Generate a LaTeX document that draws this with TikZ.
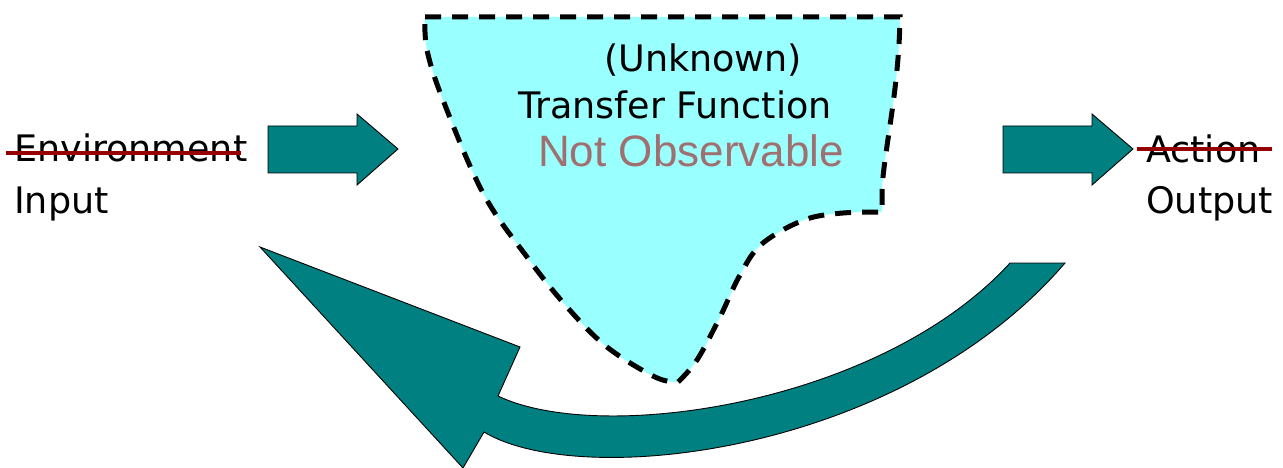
\documentclass[tikz,border=0pt]{standalone}
\usepackage{fontspec}
\newfontfamily\dv{DejaVu Sans}
\newfontfamily\ls{Liberation Sans}
\definecolor{teal2}{RGB}{0,128,128}
\definecolor{cyanfill}{RGB}{153,255,255}
\definecolor{strike}{RGB}{150,0,0}
\definecolor{nocol}{RGB}{160,112,112}
\tikzset{
  blockarrow/.style={fill=teal2, draw=black, line width=0.9pt, line join=miter},
  lbl/.style={inner sep=0pt, anchor=base west, font=\dv\fontsize{36.5}{36.5}\selectfont},
  strikeline/.style={draw=strike, line width=4pt},
  region/.style={fill=cyanfill, draw=black, line width=5pt, dash pattern=on 16pt off 11pt}
}
\begin{document}
\begin{tikzpicture}[x=1pt,y=-1pt]
\useasboundingbox (0,0) rectangle (1283,468);
% unknown region
\path[region] (425,17) -- (900,17) .. controls (899,90) and (884,150) .. (882,190) -- (882,212) -- (862,212)
  -- plot[smooth, tension=0.6] coordinates {(862,212) (810,218) (763,243) (740,275) (720,317) (697,360) (678,382)}
  -- plot[smooth, tension=0.6] coordinates {(678,382) (655,377) (607,347) (567,307) (527,257) (483,193) (443,100) (427,50) (425,17)}
  -- cycle;
% block arrows
\path[blockarrow] (268,126) -- (357,126) -- (357,114) -- (398,149) -- (357,185) -- (357,173) -- (268,173) -- cycle;
\path[blockarrow] (1003,126) -- (1092,126) -- (1092,114) -- (1133,149) -- (1092,185) -- (1092,173) -- (1003,173) -- cycle;
% curved feedback arrow
\path[blockarrow] (260,247) -- (520,347) -- (498,396)
  .. controls (600,445) and (880,405) .. (1010,263) -- (1065,263)
  .. controls (900,455) and (580,490) .. (484,432) -- (463,468) -- cycle;
% texts
\node[lbl] (env) at (14,162) {Environment};
\node[lbl] (inp) at (14,214) {Input};
\node[lbl] (act) at (1146,163) {Action};
\node[lbl] (outp) at (1146,213) {Output};
\node[lbl] (unk) at (604,72) {(Unknown)};
\node[lbl] (tf) at (518,119) {Transfer Function};
\node[inner sep=0pt, anchor=base west, text=nocol, font=\ls\fontsize{44}{44}\selectfont] (no) at (538,167) {Not Observable};
% strike lines
\draw[strikeline] (6,153) -- (241,153);
\draw[strikeline] (1137,149) -- (1272,149);
\end{tikzpicture}
\end{document}
